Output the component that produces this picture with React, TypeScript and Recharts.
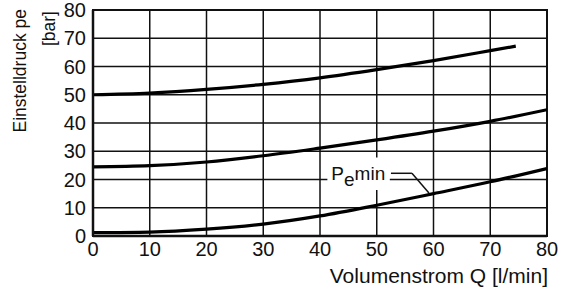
import React from "react";
import {
  LineChart,
  Line,
  XAxis,
  YAxis,
  CartesianGrid,
  ReferenceArea,
  ReferenceLine,
  ReferenceDot,
} from "recharts";

const xTicks = [0, 10, 20, 30, 40, 50, 60, 70, 80];
const yTicks = [0, 10, 20, 30, 40, 50, 60, 70, 80];

const upperCurve = [
  { q: 0, p: 50 },
  { q: 10, p: 50.6 },
  { q: 20, p: 51.9 },
  { q: 30, p: 53.7 },
  { q: 40, p: 56.0 },
  { q: 50, p: 58.9 },
  { q: 60, p: 62.1 },
  { q: 70, p: 65.6 },
  { q: 74.5, p: 67.2 },
];

const middleCurve = [
  { q: 0, p: 24.5 },
  { q: 10, p: 24.9 },
  { q: 20, p: 26.2 },
  { q: 30, p: 28.4 },
  { q: 40, p: 31.1 },
  { q: 50, p: 34.0 },
  { q: 60, p: 37.1 },
  { q: 70, p: 40.6 },
  { q: 80, p: 44.7 },
];

const pminCurve = [
  { q: 0, p: 1.2 },
  { q: 10, p: 1.4 },
  { q: 20, p: 2.4 },
  { q: 30, p: 4.2 },
  { q: 40, p: 7.1 },
  { q: 50, p: 10.9 },
  { q: 60, p: 15.0 },
  { q: 70, p: 19.2 },
  { q: 80, p: 23.9 },
];

const FONT = "'Liberation Sans', Arial, Helvetica, sans-serif";
const INK = "#111";

const YTitle = (props: any) => {
  const vb = props.viewBox || {};
  const top = (vb.y ?? 10) - 1;
  return (
    <g>
      <text
        x={20}
        y={top}
        transform={`rotate(-90, 20, ${top})`}
        textAnchor="end"
        dominantBaseline="central"
        fontSize={17.5}
        fontFamily={FONT}
        fill={INK}
      >
        Einstelldruck pe
      </text>
      <text
        x={49}
        y={top + 2}
        transform={`rotate(-90, 49, ${top + 2})`}
        textAnchor="end"
        dominantBaseline="central"
        fontSize={17.5}
        fontFamily={FONT}
        fill={INK}
      >
        [bar]
      </text>
    </g>
  );
};

const XTitle = (props: any) => {
  const vb = props.viewBox || {};
  return (
    <text
      x={vb.x + vb.width + 1}
      y={vb.y + 47}
      textAnchor="end"
      fontSize={21}
      fontFamily={FONT}
      fill={INK}
    >
      Volumenstrom Q [l/min]
    </text>
  );
};

const PminLabel = (props: any) => {
  const vb = props.viewBox || {};
  const x = vb.x ?? vb.cx;
  const y = vb.y ?? vb.cy;
  return (
    <text x={x} y={y} fontSize={19} fontFamily={FONT} fill={INK}>
      <tspan>P</tspan>
      <tspan dy={6}>e</tspan>
      <tspan dy={-6}>min</tspan>
    </text>
  );
};

export default function App() {
  return (
    <div style={{ position: "absolute", left: 0, top: 0, background: "#fff" }}>
      <LineChart
        width={564}
        height={291}
        margin={{ top: 10, right: 17, bottom: 25, left: 33 }}
      >
        <CartesianGrid stroke={INK} strokeWidth={1.5} />
        <XAxis
          type="number"
          dataKey="q"
          domain={[0, 80]}
          ticks={xTicks}
          interval={0}
          allowDataOverflow
          height={30}
          tickLine={false}
          tickMargin={0}
          axisLine={{ stroke: INK, strokeWidth: 2.5 }}
          tick={{ fontSize: 20, fontFamily: FONT, fill: INK }}
          label={{ content: XTitle }}
        />
        <YAxis
          type="number"
          domain={[0, 80]}
          ticks={yTicks}
          interval={0}
          width={60}
          tickLine={false}
          tickMargin={1}
          axisLine={{ stroke: INK, strokeWidth: 2.5 }}
          tick={{ fontSize: 20, fontFamily: FONT, fill: INK }}
          label={{ content: YTitle }}
        />
        <ReferenceArea
          x1={0}
          x2={80}
          y1={0}
          y2={80}
          fill="none"
          stroke={INK}
          strokeWidth={2}
        />
        <ReferenceArea
          x1={41.3}
          x2={52.3}
          y1={16.3}
          y2={27.8}
          fill="#fff"
          fillOpacity={1}
          stroke="none"
        />
        <ReferenceLine
          segment={[
            { x: 52.5, y: 22.2 },
            { x: 56.2, y: 22.2 },
          ]}
          stroke={INK}
          strokeWidth={1.5}
        />
        <ReferenceLine
          segment={[
            { x: 56.2, y: 22.2 },
            { x: 59.2, y: 15.2 },
          ]}
          stroke={INK}
          strokeWidth={1.5}
        />
        <ReferenceDot
          x={42.0}
          y={19.9}
          r={0}
          fill="none"
          stroke="none"
          label={{ content: PminLabel }}
        />
        <Line
          data={upperCurve}
          dataKey="p"
          type="monotone"
          stroke="#000"
          strokeWidth={3.2}
          dot={false}
          isAnimationActive={false}
        />
        <Line
          data={middleCurve}
          dataKey="p"
          type="monotone"
          stroke="#000"
          strokeWidth={3.2}
          dot={false}
          isAnimationActive={false}
        />
        <Line
          data={pminCurve}
          dataKey="p"
          type="monotone"
          stroke="#000"
          strokeWidth={3.2}
          dot={false}
          isAnimationActive={false}
        />
      </LineChart>
    </div>
  );
}
